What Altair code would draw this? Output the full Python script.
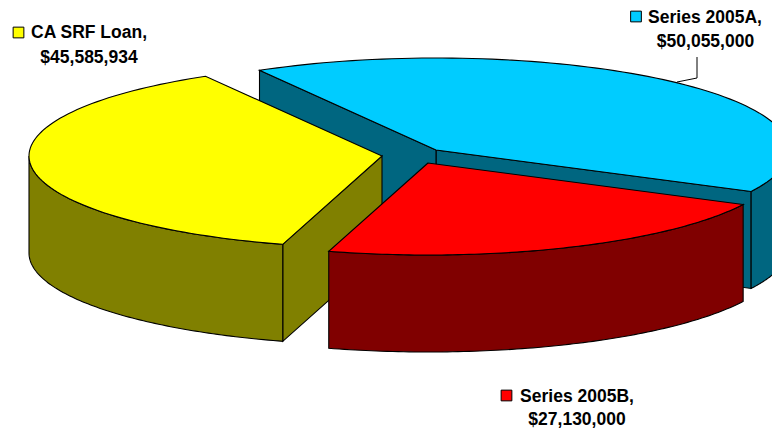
import math
import altair as alt
import pandas as pd

names = ["CA SRF Loan", "Series 2005B", "Series 2005A"]
amounts = [45585934, 27130000, 50055000]
amount_labels = ["$45,585,934", "$27,130,000", "$50,055,000"]
top_colors = ["#FFFF00", "#FF0000", "#00CCFF"]
wall_colors = ["#808000", "#800000", "#006680"]

START = 120.0
RX, RY, DEPTH = 353.0, 92.0, 97.0
apex = {"CA SRF Loan": (382, 156), "Series 2005B": (428, 163), "Series 2005A": (436, 150)}

total = sum(amounts)
spans = {}
a0 = START
for n, v in zip(names, amounts):
    a1 = a0 + v / total * 360
    spans[n] = (a0, a1)
    a0 = a1

X = alt.X("x:Q", scale=alt.Scale(domain=[8, 772], nice=False, zero=False), axis=None)
Y = alt.Y("y:Q", scale=alt.Scale(domain=[432, 8], nice=False, zero=False), axis=None)


def poly(points, fill):
    df = pd.DataFrame([{"x": p[0], "y": p[1], "i": i} for i, p in enumerate(points)])
    return alt.Chart(df).mark_line(fill=fill, stroke="black", strokeWidth=1.1, clip=True, interpolate="linear-closed").encode(
        x=X, y=Y, order="i:Q")


def arc_pts(name, a, b, dy=0.0, n=90):
    cx, cy = apex[name]
    return [(cx + RX * math.cos(math.radians(a + (b - a) * k / n)),
             cy - RY * math.sin(math.radians(a + (b - a) * k / n)) + dy) for k in range(n + 1)]


def slice_layers(name, top, wall, cuts):
    cx, cy = apex[name]
    a, b = spans[name]
    out = []
    for ang in cuts:
        p = arc_pts(name, ang, ang, n=1)[0]
        out.append(poly([(cx, cy), p, (p[0], p[1] + DEPTH), (cx, cy + DEPTH)], wall))
    # visible outer wall: lower half of the ellipse only
    if a < 180 < b:
        lo, hi = 180.0, min(b, 360.0)
    elif b > 360:
        lo, hi = max(a, 180.0), 360.0
    else:
        lo, hi = a, b
    out.append(poly(arc_pts(name, lo, hi) + arc_pts(name, hi, lo, DEPTH), wall))
    out.append(poly([(cx, cy)] + arc_pts(name, a, b), top))
    return out


layers = []
blue_a, blue_b = spans["Series 2005A"]
layers += slice_layers("Series 2005A", top_colors[2], wall_colors[2], [blue_a, blue_b])
yel_a, yel_b = spans["CA SRF Loan"]
layers += slice_layers("CA SRF Loan", top_colors[0], wall_colors[0], [yel_b])
layers += slice_layers("Series 2005B", top_colors[1], wall_colors[1], [])

# leader line
leader = pd.DataFrame({"x": [677, 697, 697], "y": [82, 78, 57], "i": [0, 1, 2]})
layers.append(alt.Chart(leader).mark_line(color="black", strokeWidth=1).encode(x=X, y=Y, order="i:Q"))

sw = pd.DataFrame({"x": [18.5, 506.5, 636], "y": [32.5, 395.5, 16.5], "c": top_colors[:3]})
layers.append(alt.Chart(sw).mark_square(size=115, stroke="black", strokeWidth=1, opacity=1).encode(
    x=X, y=Y, fill=alt.Fill("c:N", scale=None)))

t = pd.DataFrame({
    "x": [89, 89, 577, 577, 705, 705.5],
    "y": [38, 63, 402, 425, 23, 47],
    "s": [names[0] + ",", amount_labels[0], names[1] + ",", amount_labels[1], names[2] + ",", amount_labels[2]],
})
layers.append(alt.Chart(t).mark_text(font="Liberation Sans", fontWeight="bold", fontSize=17.5, color="black",
                                     align="center", baseline="alphabetic").encode(x=X, y=Y, text="s:N"))

chart = alt.layer(*layers).properties(width=764, height=424, padding=0).configure_view(stroke=None)
chart.save("out.html", embed_options={"renderer": "svg", "actions": False})
